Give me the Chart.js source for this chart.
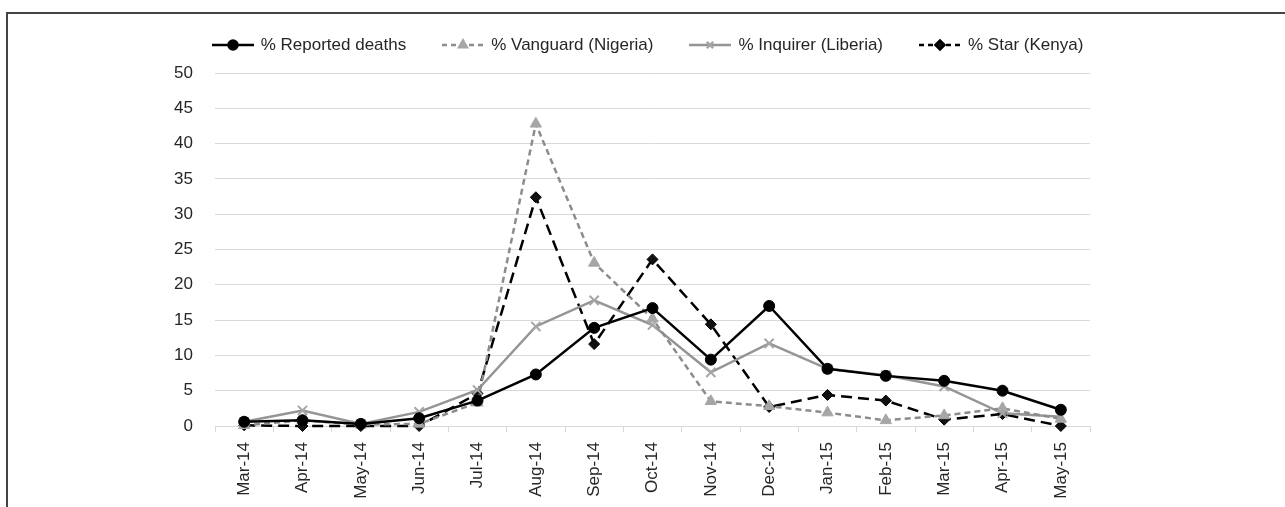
<!DOCTYPE html>
<html>
<head>
<meta charset="utf-8">
<script src="https://cdn.jsdelivr.net/npm/chart.js@4.4.1/dist/chart.umd.min.js"></script>
<style>
  html, body { margin: 0; padding: 0; background: #fff; }
  body { width: 1285px; height: 507px; position: relative; overflow: hidden; font-family: 'Liberation Sans', Arial, sans-serif; }
  #frame { position: absolute; left: 6px; top: 12px; width: 1300px; height: 520px; border-top: 2px solid #444; border-left: 2px solid #444; }
  #wrap { position: absolute; left: 0; top: 0; width: 1285px; height: 507px; }
  #legend { position: absolute; left: 5px; top: 35px; width: 1285px; display: flex; justify-content: center; align-items: center; gap: 36px; color: #262626; font-size: 17px; }
  .item { display: flex; align-items: center; gap: 7px; }
  .item canvas { display: block; }
</style>
</head>
<body>
<div id="frame"></div>
<div id="wrap"><canvas id="myChart" width="1285" height="507"></canvas></div>
<div id="legend"></div>
<script>
// data
const months = ['Mar-14','Apr-14','May-14','Jun-14','Jul-14','Aug-14','Sep-14','Oct-14','Nov-14','Dec-14','Jan-15','Feb-15','Mar-15','Apr-15','May-15']
const reported = [0.6, 0.8, 0.3, 1.1, 3.6, 7.3, 13.9, 16.7, 9.4, 17.0, 8.1, 7.1, 6.4, 5.0, 2.3]
const vanguard = [0.1, 0.8, 0.2, 0.3, 3.3, 42.8, 23.1, 15.2, 3.5, 2.8, 1.9, 0.8, 1.5, 2.5, 1.0]
const inquirer = [0.6, 2.2, 0.3, 2.0, 5.1, 14.1, 17.8, 14.3, 7.6, 11.7, 8.1, 7.2, 5.6, 1.8, 1.3]
const star = [0.1, 0.0, 0.0, 0.0, 4.6, 32.4, 11.6, 23.6, 14.4, 2.7, 4.4, 3.6, 0.9, 1.7, 0.0]
const yTicks = [0, 5, 10, 15, 20, 25, 30, 35, 40, 45, 50]

const FONT = "'Liberation Sans', Arial, sans-serif"
const TXT = '#262626'

const datasets = [
    {
        label: '% Reported deaths',
        data: reported,
        borderColor: '#000',
        backgroundColor: '#000',
        borderWidth: 2.5,
        pointStyle: 'circle',
        pointRadius: 5.5,
        pointBorderWidth: 1,
        borderDash: []
    },
    {
        label: '% Vanguard (Nigeria)',
        data: vanguard,
        borderColor: '#8c8c8c',
        backgroundColor: '#a6a6a6',
        pointBorderColor: '#a6a6a6',
        borderWidth: 2.5,
        pointStyle: 'triangle',
        pointRadius: 6.5,
        pointBorderWidth: 1,
        borderDash: [6, 4]
    },
    {
        label: '% Inquirer (Liberia)',
        data: inquirer,
        borderColor: '#959595',
        backgroundColor: '#a6a6a6',
        pointBorderColor: '#a6a6a6',
        borderWidth: 2.5,
        pointStyle: 'crossRot',
        pointRadius: 6.5,
        pointBorderWidth: 2,
        borderDash: []
    },
    {
        label: '% Star (Kenya)',
        data: star,
        borderColor: '#000',
        backgroundColor: '#111',
        borderWidth: 2.5,
        pointStyle: 'rectRot',
        pointRadius: 5.5,
        pointBorderWidth: 1,
        borderDash: [11, 6]
    }
]
datasets.forEach(d => { d.tension = 0; d.fill = false; d.clip = false })

// html legend with a line + marker sample per series
const legend = document.getElementById('legend')
datasets.forEach(d => {
    const item = document.createElement('div')
    item.className = 'item'
    const c = document.createElement('canvas')
    c.width = 42; c.height = 16
    const g = c.getContext('2d')
    g.strokeStyle = d.borderColor
    g.lineWidth = 2.5
    g.setLineDash(d.borderDash.length ? [5, 4] : [])
    g.beginPath(); g.moveTo(0, 8); g.lineTo(42, 8); g.stroke()
    g.setLineDash([])
    g.fillStyle = d.backgroundColor
    g.strokeStyle = d.pointBorderColor || d.borderColor
    Chart.helpers.drawPoint(g, {pointStyle: d.pointStyle, radius: 4.5, rotation: 0, borderWidth: d.pointBorderWidth}, 21, 8)
    const s = document.createElement('span')
    s.textContent = d.label
    item.appendChild(c); item.appendChild(s)
    legend.appendChild(item)
})

const ctx = document.getElementById('myChart').getContext('2d')
const config = {
    type: 'line',
    data: { labels: months, datasets: datasets },
    options: {
        responsive: false,
        animation: false,
        layout: { padding: { left: 150, right: 195, top: 73, bottom: 0 } },
        plugins: { legend: { display: false }, tooltip: { enabled: false } },
        scales: {
            x: {
                offset: true,
                grid: { offset: true, drawOnChartArea: false, drawTicks: true, tickLength: 6, color: '#d9d9d9' },
                border: { color: '#d9d9d9', width: 1 },
                ticks: { minRotation: 90, maxRotation: 90, padding: 10, color: TXT, font: { family: FONT, size: 17 } },
                afterFit: (s) => { s.height = 81 }
            },
            y: {
                min: 0,
                max: 50,
                afterBuildTicks: (s) => { s.ticks = yTicks.map(v => ({ value: v })) },
                grid: { color: '#d9d9d9', lineWidth: 1, drawTicks: false },
                border: { display: false },
                ticks: { padding: 22, color: TXT, font: { family: FONT, size: 17 } },
                afterFit: (s) => { s.width = 65 }
            }
        }
    }
}
const myChart = new Chart(ctx, config)
</script>
</body>
</html>
